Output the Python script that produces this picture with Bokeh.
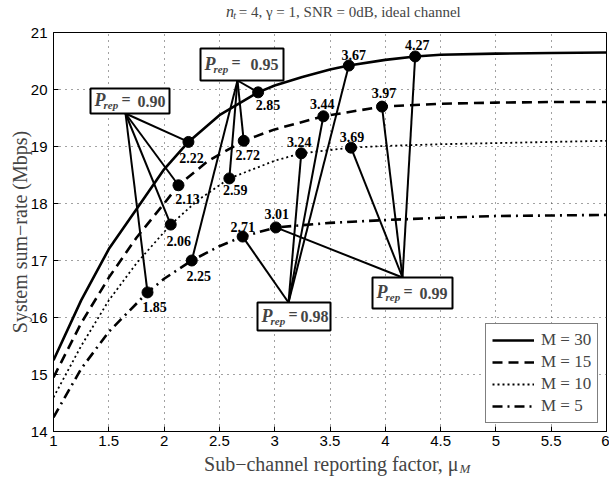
from bokeh.plotting import figure
from bokeh.layouts import column
from bokeh.models import Label, Legend, LegendItem, FixedTicker, Range1d
from bokeh.embed import file_html
from bokeh.resources import INLINE

# ---- data: sum-rate curves (Mbps) versus sub-channel reporting factor ----
mu_m30 = [1.0, 1.25, 1.5, 1.75, 2.0, 2.22, 2.5, 2.85, 3.0, 3.25, 3.5, 3.67, 4.0, 4.27, 4.5, 5.0, 5.5, 6.0]
rate_m30 = [15.25, 16.3, 17.2, 17.9, 18.6, 19.08, 19.55, 19.95, 20.07, 20.22, 20.35, 20.42, 20.52, 20.58, 20.61, 20.63, 20.64, 20.65]

mu_m15 = [1.0, 1.25, 1.5, 1.75, 2.0, 2.13, 2.4, 2.72, 3.0, 3.44, 3.97, 4.5, 5.0, 5.5, 6.0]
rate_m15 = [14.95, 15.9, 16.7, 17.4, 18.0, 18.32, 18.75, 19.1, 19.3, 19.53, 19.70, 19.75, 19.77, 19.78, 19.78]

mu_m10 = [1.0, 1.25, 1.5, 1.75, 2.06, 2.3, 2.59, 3.0, 3.24, 3.69, 4.0, 4.5, 5.0, 5.5, 6.0]
rate_m10 = [14.6, 15.5, 16.3, 16.95, 17.63, 18.05, 18.44, 18.75, 18.88, 18.98, 19.01, 19.04, 19.06, 19.08, 19.1]

mu_m5 = [1.0, 1.25, 1.5, 1.85, 2.0, 2.25, 2.5, 2.71, 3.01, 3.5, 4.0, 4.5, 5.0, 5.5, 6.0]
rate_m5 = [14.25, 15.1, 15.75, 16.44, 16.68, 17.0, 17.25, 17.42, 17.58, 17.66, 17.71, 17.75, 17.78, 17.79, 17.8]

# operating points for each repetition probability, ordered M = 30, 15, 10, 5
p_rep = ["0.90", "0.95", "0.98", "0.99"]
op_mu = {
    "0.90": [2.22, 2.13, 2.06, 1.85],
    "0.95": [2.85, 2.72, 2.59, 2.25],
    "0.98": [3.67, 3.44, 3.24, 2.71],
    "0.99": [4.27, 3.97, 3.69, 3.01],
}
op_rate = {
    "0.90": [19.08, 18.32, 17.63, 16.44],
    "0.95": [19.95, 19.1, 18.44, 17.0],
    "0.98": [20.42, 19.53, 18.88, 17.42],
    "0.99": [20.58, 19.70, 18.98, 17.58],
}

legend_labels = ["M = 30", "M = 15", "M = 10", "M = 5"]
x_ticks = [1, 1.5, 2, 2.5, 3, 3.5, 4, 4.5, 5, 5.5, 6]
y_ticks = [14, 15, 16, 17, 18, 19, 20, 21]

# ---- page geometry (pixels) ----
W = 609
TITLE_H = 23           # strip holding the title
FL, FR = 53, 606       # frame left / right on the page
FT, FB = 32, 431       # frame top / bottom on the page
MAIN_TOP = FT - TITLE_H
MAIN_BOTTOM = 23
MAIN_H = MAIN_TOP + (FB - FT) + MAIN_BOTTOM
XLAB_H = 483 - TITLE_H - MAIN_H


def sx(px):
    """page x pixel -> data x"""
    return 1 + (px - FL) * 5.0 / (FR - FL)


def sy(py):
    """page y pixel -> data y"""
    return 21 - (py - FT) * 7.0 / (FB - FT)


SERIF = "Liberation Serif"
SANS = "Liberation Sans"
LABEL_SIZE = "20px"


def text_strip(height, top):
    """an axis-less strip whose data coordinates are page pixels"""
    f = figure(width=W, height=height, output_backend="svg", toolbar_location=None,
               x_axis_type=None, y_axis_type=None,
               x_range=Range1d(0, W), y_range=Range1d(top + height, top),
               min_border=0)
    f.outline_line_color = None
    f.background_fill_color = "white"
    f.border_fill_color = "white"
    return f


# ---- title strip: n_t = 4, gamma = 1, SNR = 0dB, ideal channel ----
ft = text_strip(TITLE_H, 0)
ft.add_layout(Label(x=190, y=11, text="n", text_font=SERIF, text_font_style="italic",
                    text_font_size="16px", text_baseline="middle", text_align="left"))
ft.add_layout(Label(x=198, y=15, text="t", text_font=SERIF, text_font_style="italic",
                    text_font_size="10px", text_baseline="middle", text_align="left"))
ft.add_layout(Label(x=204, y=11, text="= 4,  \u03b3 = 1, SNR = 0dB, ideal channel",
                    text_font=SERIF, text_font_size="15px",
                    text_baseline="middle", text_align="left"))

# ---- main plot ----
p = figure(width=W, height=MAIN_H, x_range=(1, 6), y_range=(14, 21),
           output_backend="svg", toolbar_location=None,
           min_border_left=FL, min_border_right=W - FR,
           min_border_top=MAIN_TOP, min_border_bottom=MAIN_BOTTOM)
p.outline_line_color = "black"
p.outline_line_width = 1
p.background_fill_color = "white"
p.border_fill_color = "white"

for ax in (p.xaxis[0], p.yaxis[0]):
    ax.major_tick_in = 5
    ax.major_tick_out = 0
    ax.minor_tick_in = 0
    ax.minor_tick_out = 0
    ax.axis_line_color = "black"
    ax.major_tick_line_color = "black"
    ax.major_label_text_font = SANS
    ax.major_label_text_font_size = "15px"
    ax.major_label_text_color = "black"
    ax.major_label_standoff = 6

p.xaxis[0].ticker = FixedTicker(ticks=x_ticks)
p.xaxis[0].major_label_overrides = {t: ("%g" % t) for t in x_ticks}
p.xaxis[0].major_label_standoff = 4
p.yaxis[0].ticker = FixedTicker(ticks=y_ticks)
p.yaxis[0].major_label_overrides = {t: str(t) for t in y_ticks}
p.yaxis[0].axis_label = "System sum\u2212rate (Mbps)"
p.yaxis[0].axis_label_text_font = SERIF
p.yaxis[0].axis_label_text_font_style = "normal"
p.yaxis[0].axis_label_text_font_size = LABEL_SIZE
p.yaxis[0].axis_label_standoff = -3

for g in (p.xgrid[0], p.ygrid[0]):
    g.grid_line_color = "#444444"
    g.grid_line_dash = "1 5"
    g.grid_line_width = 1

# ---- curves ----
r30 = p.line(mu_m30, rate_m30, line_color="black", line_width=2.6)
r15 = p.line(mu_m15, rate_m15, line_color="black", line_width=2.6, line_dash="10 6")
r10 = p.line(mu_m10, rate_m10, line_color="black", line_width=1.8, line_dash="2 3")
r5 = p.line(mu_m5, rate_m5, line_color="black", line_width=2.6, line_dash="10 5 2 5")

# ---- annotation boxes: (left, top, right, bottom), the point the lines start from,
#      and the right padding of the value text ----
boxes = {
    "0.90": ((90, 88, 169, 113), (125, 113), 4),
    "0.95": ((200, 48, 283, 80), (237, 80), 5),
    "0.98": ((257, 302, 330, 330), (288, 302), 2),
    "0.99": ((372, 277, 452, 308), (402, 277), 5),
}

for key in p_rep:
    (l, t, r, b), (hx, hy), _ = boxes[key]
    n = len(op_mu[key])
    p.segment(x0=[sx(hx)] * n, y0=[sy(hy)] * n, x1=op_mu[key], y1=op_rate[key],
              line_color="black", line_width=2)

for key in p_rep:
    (l, t, r, b), _, _ = boxes[key]
    p.quad(left=[sx(l)], right=[sx(r)], top=[sy(t)], bottom=[sy(b)],
           fill_color="white", line_color="black", line_width=2)

# markers at the operating points
all_mu = [m for k in p_rep for m in op_mu[k]]
all_rate = [v for k in p_rep for v in op_rate[k]]
p.scatter(all_mu, all_rate, size=11, marker="circle", fill_color="black", line_color="black")

# value labels next to the markers: pixel offsets (dx, dy), dy downwards
label_offsets = {
    "0.90": [(3, 16), (9, 14), (8, 16), (7, 15)],
    "0.95": [(10, 13), (4, 14), (6, 12), (7, 15)],
    "0.98": [(5, -11), (-1, -12), (-2, -11), (0, -10)],
    "0.99": [(2, -11), (2, -14), (1, -11), (1, -13)],
}
for key in p_rep:
    for m, v, (ox, oy) in zip(op_mu[key], op_rate[key], label_offsets[key]):
        p.text(x=[m], y=[v], text=["%.2f" % m], x_offset=ox, y_offset=oy,
               text_align="center", text_baseline="middle",
               text_font=SERIF, text_font_style="bold", text_font_size="14px",
               text_color="black")

# box texts: P_rep = value
for key in p_rep:
    (l, t, r, b), _, pad = boxes[key]
    c = (t + b) / 2.0
    p.add_layout(Label(x=sx(l + 4), y=sy(c - 1), text="P", text_font=SERIF,
                       text_font_style="bold italic", text_font_size="18px",
                       text_baseline="middle", text_align="left"))
    p.add_layout(Label(x=sx(l + 13), y=sy(c + 4), text="rep", text_font=SERIF,
                       text_font_style="bold italic", text_font_size="11px",
                       text_baseline="middle", text_align="left"))
    p.add_layout(Label(x=sx(l + 31), y=sy(c - 2), text="=", text_font=SERIF,
                       text_font_style="bold", text_font_size="16px",
                       text_baseline="middle", text_align="left"))
    p.add_layout(Label(x=sx(r - pad), y=sy(c), text=key, text_font=SERIF,
                       text_font_style="bold", text_font_size="16px",
                       text_baseline="middle", text_align="right"))

# legend
legend = Legend(items=[LegendItem(label=lab, renderers=[rr])
                       for lab, rr in zip(legend_labels, [r30, r15, r10, r5])],
                location=(485 - FL, FB - 423))
legend.label_text_font = SERIF
legend.label_text_font_size = "17px"
legend.glyph_width = 42
legend.glyph_height = 18
legend.label_height = 18
legend.label_standoff = 7
legend.spacing = 2
legend.padding = 6
legend.margin = 0
legend.border_line_color = "black"
legend.border_line_width = 1.5
legend.background_fill_color = "white"
legend.background_fill_alpha = 1
p.add_layout(legend)

# ---- x-axis label strip: Sub-channel reporting factor, mu_M ----
fx = text_strip(XLAB_H, TITLE_H + MAIN_H)
fx.add_layout(Label(x=446, y=463, text="Sub\u2212channel reporting factor, \u03bc",
                    text_font=SERIF, text_font_size=LABEL_SIZE,
                    text_baseline="middle", text_align="right"))
fx.add_layout(Label(x=447, y=468, text="M", text_font=SERIF, text_font_style="italic",
                    text_font_size="13px", text_baseline="middle", text_align="left"))

page = column(ft, p, fx, spacing=0)
open("out.html", "w").write(file_html(page, INLINE))
